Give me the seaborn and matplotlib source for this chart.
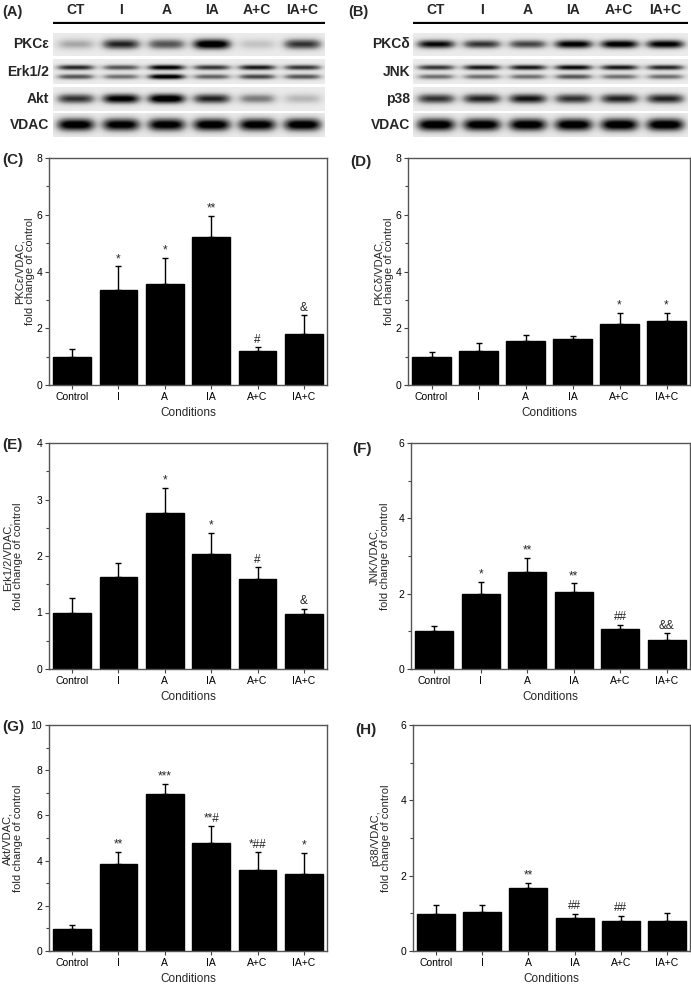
import numpy as np
import pandas as pd
import seaborn as sns
import matplotlib.pyplot as plt
from matplotlib.ticker import MultipleLocator

conditions = ["Control", "I", "A", "IA", "A+C", "IA+C"]
lanes = ["CT", "I", "A", "IA", "A+C", "IA+C"]

# band darkness read by eye from the blots (0 = none, 1 = saturated)
blot_a_labels = ["PKC\u03b5", "Erk1/2", "Akt", "VDAC"]
pkce_band = [0.30, 0.75, 0.60, 0.98, 0.20, 0.70]
erk_upper = [0.75, 0.60, 0.90, 0.70, 0.80, 0.70]
erk_lower = [0.60, 0.50, 0.95, 0.55, 0.65, 0.60]
akt_band = [0.70, 0.90, 0.98, 0.75, 0.45, 0.25]
vdac_a = [0.95, 0.92, 0.93, 0.95, 0.93, 0.95]

blot_b_labels = ["PKC\u03b4", "JNK", "p38", "VDAC"]
pkcd_band = [0.85, 0.70, 0.65, 0.90, 0.92, 0.90]
jnk_upper = [0.70, 0.80, 0.80, 0.85, 0.80, 0.75]
jnk_lower = [0.50, 0.50, 0.50, 0.60, 0.50, 0.50]
p38_band = [0.70, 0.75, 0.80, 0.70, 0.75, 0.75]
vdac_b = [0.97, 0.95, 0.95, 0.96, 0.97, 0.97]

# bar charts: mean and top of the error bar
pkce_mean = [1.0, 3.34, 3.55, 5.2, 1.21, 1.79]
pkce_top = [1.27, 4.18, 4.47, 5.97, 1.33, 2.47]
pkce_sig = ["", "*", "*", "**", "#", "&"]

pkcd_mean = [1.0, 1.21, 1.56, 1.61, 2.16, 2.25]
pkcd_top = [1.15, 1.49, 1.75, 1.71, 2.54, 2.55]
pkcd_sig = ["", "", "", "", "*", "*"]

erk_mean = [1.0, 1.62, 2.76, 2.04, 1.6, 0.98]
erk_top = [1.26, 1.87, 3.21, 2.41, 1.8, 1.07]
erk_sig = ["", "", "*", "*", "#", "&"]

jnk_mean = [1.0, 1.98, 2.58, 2.04, 1.07, 0.78]
jnk_top = [1.15, 2.32, 2.96, 2.27, 1.18, 0.95]
jnk_sig = ["", "*", "**", "**", "##", "&&"]

akt_mean = [0.98, 3.85, 6.96, 4.79, 3.6, 3.41]
akt_top = [1.13, 4.37, 7.41, 5.53, 4.37, 4.33]
akt_sig = ["", "**", "***", "**#", "*##", "*"]

p38_mean = [0.99, 1.03, 1.66, 0.87, 0.8, 0.8]
p38_top = [1.21, 1.21, 1.8, 0.99, 0.94, 1.0]
p38_sig = ["", "", "**", "##", "##", ""]

sns.set_style("ticks")
plt.rcParams["font.family"] = ["Liberation Sans", "DejaVu Sans"]

W, H = 691, 986
fig = plt.figure(figsize=(W / 100, H / 100), dpi=100)


def px_axes(x0, y0, x1, y1):
    return fig.add_axes([x0 / W, 1 - y1 / H, (x1 - x0) / W, (y1 - y0) / H])


def px_text(x, y, s, **kw):
    fig.text(x / W, 1 - y / H, s, **kw)


def blot_strip(ax, upper, lower=None, sig=0.20):
    nx, ny = 600, 60
    xs = np.arange(nx)
    ys = np.arange(ny)[:, None]
    lane_w = nx / len(upper)
    img = np.full((ny, nx), 0.15)
    rows = [(upper, 0.5, sig)] if lower is None else [(upper, 0.33, 0.11), (lower, 0.70, 0.11)]
    for vals, yc, s in rows:
        for i, v in enumerate(vals):
            c = (i + 0.5) * lane_w
            px = np.exp(-((xs - c) / (0.42 * lane_w)) ** 4)
            py = np.exp(-((ys - yc * ny) / (s * ny)) ** 2)
            img = img + v * py * px[None, :]
    ax.imshow(np.clip(img, 0, 1), cmap="Greys", vmin=0, vmax=1,
              aspect="auto", interpolation="bilinear")
    ax.set_axis_off()


def blot_panel(x0, x1, label_x, tag, tag_x, names, strips):
    px_text(tag_x, 12, tag, fontsize=10.5, fontweight="bold", va="center")
    lane_w = (x1 - x0) / len(lanes)
    for i, lane in enumerate(lanes):
        px_text(x0 + (i + 0.5) * lane_w, 10, lane, fontsize=10, fontweight="bold",
                ha="center", va="center")
    line_ax = px_axes(x0, 21, x1, 24)
    line_ax.axhline(0.5, color="black", lw=1.6)
    line_ax.set_axis_off()
    bands = [(33, 56), (59, 84), (87, 111), (113, 137)]
    for (y0, y1), name, strip in zip(bands, names, strips):
        ax = px_axes(x0, y0, x1, y1)
        blot_strip(ax, *strip)
        px_text(label_x, (y0 + y1) / 2, name, fontsize=10, fontweight="bold",
                ha="right", va="center")


blot_panel(53, 325, 49, "(A)", 2, blot_a_labels,
           [(pkce_band, None, 0.22), (erk_upper, erk_lower), (akt_band, None, 0.20),
            (vdac_a, None, 0.26)])
blot_panel(413, 688, 410, "(B)", 348, blot_b_labels,
           [(pkcd_band, None, 0.18), (jnk_upper, jnk_lower), (p38_band, None, 0.20),
            (vdac_b, None, 0.26)])


def bar_panel(box, tag, tag_xy, ylabel, label_off, mean, top, sig, ymax, major, minor):
    ax = px_axes(*box)
    width_px = box[2] - box[0]
    df = pd.DataFrame({"Conditions": conditions, "value": mean})
    sns.barplot(data=df, x="Conditions", y="value", color="black", width=0.82,
                saturation=1, errorbar=None, ax=ax)
    for p in ax.patches:
        p.set_edgecolor("black")
    err = np.array(top) - np.array(mean)
    ax.errorbar(np.arange(len(mean)), mean, yerr=[np.zeros_like(err), err],
                fmt="none", ecolor="black", elinewidth=1, capsize=2.5, capthick=1)
    for i, s in enumerate(sig):
        if s:
            ax.annotate(s, (i, top[i]), xytext=(0, 1), textcoords="offset points",
                        ha="center", va="bottom", fontsize=8.5)
    ax.set_xlim(-0.5, len(mean) - 0.5)
    ax.set_ylim(0, ymax)
    ax.yaxis.set_major_locator(MultipleLocator(major))
    ax.yaxis.set_minor_locator(MultipleLocator(minor))
    ax.set_yticklabels([f"{t:g}" for t in ax.get_yticks()])
    ax.tick_params(axis="both", which="major", labelsize=7.5, length=3, width=0.8,
                   colors="#444444", labelcolor="black", pad=2)
    ax.tick_params(axis="y", which="minor", length=2, width=0.8, colors="#444444")
    ax.set_xlabel("Conditions", fontsize=8.5, labelpad=4)
    ax.set_ylabel(ylabel, fontsize=8, linespacing=1.1)
    ax.yaxis.set_label_coords(-(label_off - 12) / width_px, 0.5)
    for sp in ax.spines.values():
        sp.set_visible(True)
        sp.set_color("#555555")
        sp.set_linewidth(1.0)
    px_text(tag_xy[0], tag_xy[1], tag, fontsize=11, fontweight="bold", va="center")
    return ax


bar_panel((49, 158, 327, 385), "(C)", (2, 160), "PKC\u03b5/VDAC,\nfold change of control", 26,
          pkce_mean, pkce_top, pkce_sig, 8, 2, 1)
bar_panel((408, 158, 690, 385), "(D)", (350, 162), "PKC\u03b4/VDAC,\nfold change of control", 26,
          pkcd_mean, pkcd_top, pkcd_sig, 8, 2, 1)
bar_panel((49, 443, 327, 669), "(E)", (2, 445), "Erk1/2/VDAC,\nfold change of control", 38,
          erk_mean, erk_top, erk_sig, 4, 1, 0.5)
bar_panel((411, 443, 690, 669), "(F)", (352, 449), "JNK/VDAC,\nfold change of control", 33,
          jnk_mean, jnk_top, jnk_sig, 6, 2, 1)
bar_panel((49, 725, 327, 951), "(G)", (2, 727), "Akt/VDAC,\nfold change of control", 38,
          akt_mean, akt_top, akt_sig, 10, 2, 1)
bar_panel((413, 725, 690, 951), "(H)", (355, 730), "p38/VDAC,\nfold change of control", 34,
          p38_mean, p38_top, p38_sig, 6, 2, 1)

fig.savefig("out.png", dpi=100)
